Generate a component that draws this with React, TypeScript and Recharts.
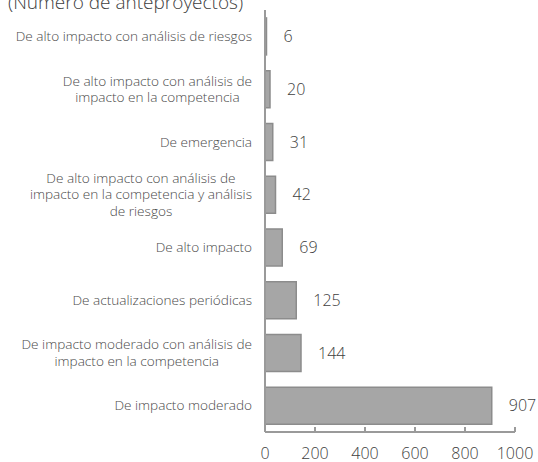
import { Bar, BarChart, LabelList, XAxis, YAxis } from "recharts";

const categories = [
  "De alto impacto con análisis de riesgos",
  "De alto impacto con análisis de\nimpacto en la competencia",
  "De emergencia",
  "De alto impacto con análisis de\nimpacto en la competencia y análisis\nde riesgos",
  "De alto impacto",
  "De actualizaciones periódicas",
  "De impacto moderado con análisis de\nimpacto en la competencia",
  "De impacto moderado",
];
const values = [6, 20, 31, 42, 69, 125, 144, 907];
const xTicks = [0, 200, 400, 600, 800, 1000];

const data = categories.map((name, i) => ({ name, value: values[i] }));

const FONT = '"Open Sans", sans-serif';

let ctx: CanvasRenderingContext2D | null = null;
function textWidth(text: string, size: number, weight: number) {
  if (!ctx) ctx = document.createElement("canvas").getContext("2d");
  if (!ctx) return text.length * size * 0.5;
  ctx.font = `${weight} ${size}px ${FONT}`;
  return ctx.measureText(text).width;
}

function CategoryTick({ x, y, payload }: any) {
  const lines = String(payload.value).split("\n");
  const size = 13.6;
  const weight = 300;
  const lh = 16.5;
  const maxW = Math.max(...lines.map((l) => textWidth(l, size, weight)));
  const cx = x - maxW / 2;
  const y0 = y - ((lines.length - 1) * lh) / 2;
  return (
    <text textAnchor="middle" fill="#4a4a4a" fontSize={size} fontWeight={weight} fontFamily={FONT}>
      {lines.map((l, i) => (
        <tspan key={i} x={cx} y={y0 + i * lh} dy="0.35em">
          {l}
        </tspan>
      ))}
    </text>
  );
}

export default function App() {
  return (
    <div style={{ position: "absolute", left: 0, top: 0, width: 538, height: 462, background: "#fff" }}>
      <div
        style={{
          position: "absolute",
          left: 8,
          top: -9,
          fontFamily: FONT,
          fontSize: 19,
          fontWeight: 300,
          lineHeight: "22px",
          color: "#404040",
          whiteSpace: "nowrap",
        }}
      >
        (Número de anteproyectos)
      </div>
      <BarChart
        width={538}
        height={462}
        data={data}
        layout="vertical"
        margin={{ top: 10, right: 23, bottom: 0, left: 0 }}
        barCategoryGap="15%"
      >
        <XAxis
          type="number"
          domain={[0, 1000]}
          ticks={xTicks}
          height={30}
          axisLine={{ stroke: "#9a9a9a", strokeWidth: 2 }}
          tickLine={{ stroke: "#9a9a9a", strokeWidth: 2 }}
          tickSize={-5}
          tickMargin={21}
          tick={{ fill: "#404040", fontSize: 16, fontWeight: 300, fontFamily: FONT }}
        />
        <YAxis
          type="category"
          dataKey="name"
          width={265}
          axisLine={{ stroke: "#9a9a9a", strokeWidth: 2 }}
          tickLine={false}
          tickSize={0}
          tickMargin={13}
          interval={0}
          tick={<CategoryTick />}
        />
        <Bar dataKey="value" fill="#a6a6a6" stroke="#8c8c8c" strokeWidth={1.5} isAnimationActive={false}>
          <LabelList
            dataKey="value"
            position="right"
            offset={17}
            fill="#404040"
            fontSize={16}
            fontWeight={300}
            fontFamily={FONT}
          />
        </Bar>
      </BarChart>
    </div>
  );
}
